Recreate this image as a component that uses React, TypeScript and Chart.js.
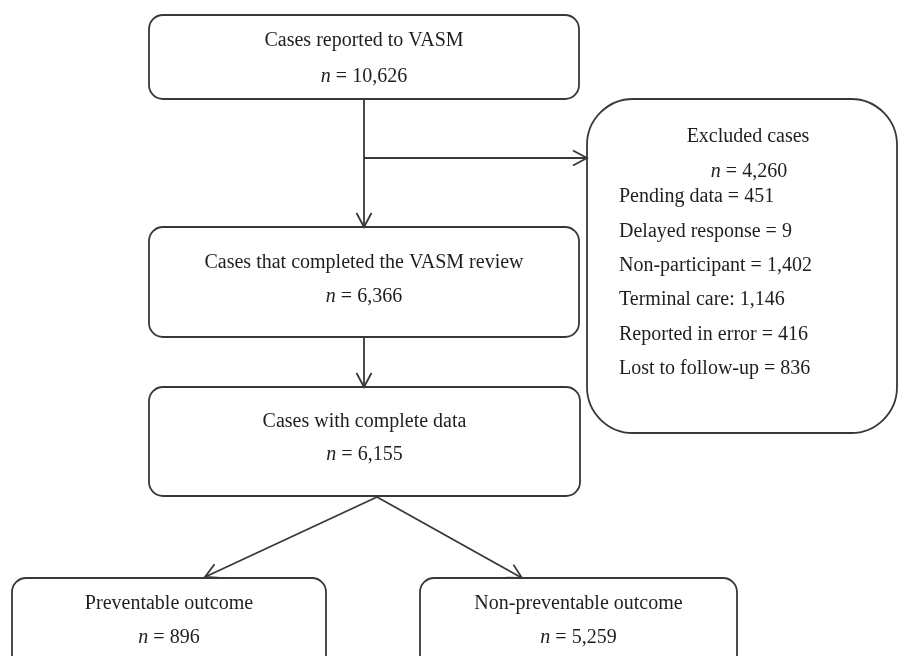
import React, { useEffect, useRef } from "react";
import { Chart, registerables } from "chart.js";

Chart.register(...registerables);

// ---- Data ----
const stageTitles = [
  "Cases reported to VASM",
  "Cases that completed the VASM review",
  "Cases with complete data",
  "Preventable outcome",
  "Non-preventable outcome",
];
const stageCounts = [10626, 6366, 6155, 896, 5259];

const excludedTitle = "Excluded cases";
const excludedTotal = 4260;
const excludedReasons = [
  "Pending data",
  "Delayed response",
  "Non-participant",
  "Terminal care",
  "Reported in error",
  "Lost to follow-up",
];
const excludedCounts = [451, 9, 1402, 1146, 416, 836];
const excludedSeparators = [" = ", " = ", " = ", ": ", " = ", " = "];

// ---- Layout (coordinates in the chart's own x/y value space) ----
const stageBoxes = [
  { x0: 149, x1: 579, y0: 15, y1: 99, r: 14, ty: 41, ny: 77 },
  { x0: 149, x1: 579, y0: 227, y1: 337, r: 14, ty: 263, ny: 297 },
  { x0: 149, x1: 580, y0: 387, y1: 496, r: 14, ty: 422, ny: 455 },
  { x0: 12, x1: 326, y0: 578, y1: 700, r: 14, ty: 604, ny: 638 },
  { x0: 420, x1: 737, y0: 578, y1: 700, r: 14, ty: 604, ny: 638 },
];
const excludedBox = { x0: 587, x1: 897, y0: 99, y1: 433, r: 46, cx: 748, ty: 137, ny: 172, lx: 619, ly0: 197, dy: 34.4 };
const arrows = [
  { pts: [[364, 99], [364, 227]] },
  { pts: [[364, 158], [587, 158]] },
  { pts: [[364, 337], [364, 387]] },
  { pts: [[377, 497], [205, 577]] },
  { pts: [[377, 497], [522, 578]] },
];

const FONT = '"Liberation Serif", "Times New Roman", serif';
const LINE = "#383838";
const TEXT = "#1e1e1e";

const fmt = (v: number) => v.toLocaleString("en-US");

const flowPlugin = {
  id: "flowchart",
  afterDraw(chart: any) {
    const ctx: CanvasRenderingContext2D = chart.ctx;
    const xs = chart.scales.x;
    const ys = chart.scales.y;
    const X = (v: number) => xs.getPixelForValue(v);
    const Y = (v: number) => ys.getPixelForValue(v);

    const roundRect = (x0: number, y0: number, x1: number, y1: number, r: number) => {
      const a = X(x0), b = Y(y0), c = X(x1), d = Y(y1);
      ctx.beginPath();
      ctx.moveTo(a + r, b);
      ctx.lineTo(c - r, b);
      ctx.arcTo(c, b, c, b + r, r);
      ctx.lineTo(c, d - r);
      ctx.arcTo(c, d, c - r, d, r);
      ctx.lineTo(a + r, d);
      ctx.arcTo(a, d, a, d - r, r);
      ctx.lineTo(a, b + r);
      ctx.arcTo(a, b, a + r, b, r);
      ctx.closePath();
      ctx.stroke();
    };

    const regular = `20px ${FONT}`;
    const italic = `italic 20px ${FONT}`;

    const centerText = (s: string, cx: number, cy: number) => {
      ctx.font = regular;
      ctx.textAlign = "center";
      ctx.fillText(s, X(cx), Y(cy));
    };
    const nText = (value: number, cx: number, cy: number) => {
      ctx.font = italic;
      const w1 = ctx.measureText("n").width;
      ctx.font = regular;
      const rest = " = " + fmt(value);
      const w2 = ctx.measureText(rest).width;
      const start = X(cx) - (w1 + w2) / 2;
      ctx.textAlign = "left";
      ctx.font = italic;
      ctx.fillText("n", start, Y(cy));
      ctx.font = regular;
      ctx.fillText(rest, start + w1, Y(cy));
    };

    ctx.save();
    ctx.strokeStyle = LINE;
    ctx.lineWidth = 1.8;
    ctx.fillStyle = TEXT;
    ctx.textBaseline = "middle";

    stageBoxes.forEach((bx, i) => {
      roundRect(bx.x0, bx.y0, bx.x1, bx.y1, bx.r);
      const cx = (bx.x0 + bx.x1) / 2;
      centerText(stageTitles[i], cx, bx.ty);
      nText(stageCounts[i], cx, bx.ny);
    });

    const eb = excludedBox;
    roundRect(eb.x0, eb.y0, eb.x1, eb.y1, eb.r);
    centerText(excludedTitle, eb.cx, eb.ty);
    nText(excludedTotal, eb.cx + 1, eb.ny);
    ctx.textAlign = "left";
    ctx.font = regular;
    excludedReasons.forEach((r, i) => {
      ctx.fillText(r + excludedSeparators[i] + fmt(excludedCounts[i]), X(eb.lx), Y(eb.ly0 + i * eb.dy));
    });

    // arrows
    arrows.forEach((ar) => {
      const [p0, p1] = ar.pts;
      const ax = X(p0[0]), ay = Y(p0[1]), bx = X(p1[0]), by = Y(p1[1]);
      ctx.beginPath();
      ctx.moveTo(ax, ay);
      ctx.lineTo(bx, by);
      ctx.stroke();
      const ang = Math.atan2(by - ay, bx - ax);
      const len = 14, half = 7.5;
      const ux = Math.cos(ang), uy = Math.sin(ang);
      const px = -uy, py = ux;
      ctx.beginPath();
      ctx.moveTo(bx - ux * len + px * half, by - uy * len + py * half);
      ctx.lineTo(bx, by);
      ctx.lineTo(bx - ux * len - px * half, by - uy * len - py * half);
      ctx.stroke();
    });
    ctx.restore();
  },
};

export default function App() {
  const ref = useRef<HTMLCanvasElement | null>(null);
  useEffect(() => {
    document.body.style.margin = "0";
    const canvas = ref.current;
    if (!canvas) return;
    const chart = new Chart(canvas, {
      type: "scatter",
      data: { datasets: [{ data: [], showLine: false }] },
      options: {
        animation: false,
        responsive: false,
        maintainAspectRatio: false,
        layout: { padding: 0 },
        plugins: { legend: { display: false }, tooltip: { enabled: false } },
        scales: {
          x: { type: "linear", min: 0, max: 899, display: false },
          y: { type: "linear", min: 0, max: 656, reverse: true, display: false },
        },
      },
      plugins: [flowPlugin],
    });
    return () => chart.destroy();
  }, []);
  return (
    <div style={{ position: "absolute", left: 0, top: 0, width: 899, height: 656, background: "#fff" }}>
      <canvas ref={ref} width={899} height={656} />
    </div>
  );
}
